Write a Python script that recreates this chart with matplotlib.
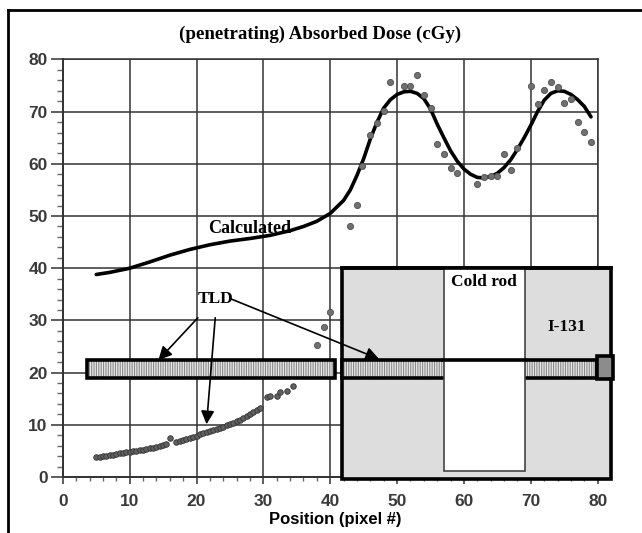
import matplotlib
matplotlib.use("Agg")
import matplotlib.pyplot as plt
from matplotlib.patches import Rectangle, FancyArrowPatch
from matplotlib.lines import Line2D
from matplotlib.ticker import MultipleLocator

# calculated dose curve
calc_x = [5, 7, 10, 13, 16, 19, 22, 25, 28, 31, 34, 36, 38, 40, 42, 43, 44, 45, 46, 47,
          48, 49, 50, 51, 52, 53, 54, 55, 56, 57, 58, 59, 60, 61, 62, 63, 64, 65, 66, 67,
          68, 69, 70, 71, 72, 73, 74, 75, 76, 77, 78, 79]
calc_y = [38.8, 39.2, 40.0, 41.2, 42.5, 43.6, 44.5, 45.2, 45.7, 46.3, 47.2, 48.0, 49.0, 50.5,
          53.0, 55.0, 57.8, 61.0, 64.8, 68.0, 70.7, 72.3, 73.3, 73.8, 73.9, 73.5, 72.5, 70.5,
          67.6, 65.0, 62.5, 60.5, 59.0, 58.0, 57.4, 57.3, 57.6, 58.2, 59.3, 60.8, 62.8, 65.0,
          67.4, 70.0, 72.2, 73.5, 74.0, 73.9, 73.3, 72.3, 71.0, 69.0]

# measured TLD dose (upper branch)
tld_x = [38, 39, 40, 43, 44, 44.7, 46, 47, 48, 49, 51, 52, 53, 54, 55, 56, 57, 58, 59,
         62, 63, 64, 65, 66, 67, 68, 70, 71, 72, 73, 74, 75, 76, 77, 78, 79]
tld_y = [25.3, 28.8, 31.7, 48.1, 52.2, 59.6, 65.5, 67.8, 70.1, 75.7, 75.0, 74.9, 77.0, 73.1,
         70.7, 63.9, 61.8, 59.3, 58.3, 56.1, 57.4, 57.7, 57.7, 61.8, 58.9, 63.1, 74.9, 71.4,
         74.2, 75.6, 74.7, 71.6, 72.4, 68.1, 66.2, 64.2]

# measured TLD dose (lower branch)
low_x = [5.0, 5.5, 6.0, 6.5, 7.0, 7.5, 8.0, 8.5, 9.0, 9.5, 10.0, 10.5, 11.0, 11.5, 12.0,
         12.5, 13.0, 13.5, 14.0, 14.5, 15.0, 15.5, 16.0, 17.0, 17.5, 18.0, 18.5, 19.0, 19.5,
         20.0, 20.5, 21.0, 21.5, 22.0, 22.5, 23.0, 23.5, 24.0, 24.5, 25.0, 25.5, 26.0, 26.5,
         27.0, 27.5, 28.0, 28.5, 29.0, 29.5, 30.5, 31.0, 32.0, 32.5, 33.5, 34.5]
low_y = [3.8, 3.9, 4.0, 4.1, 4.2, 4.3, 4.4, 4.5, 4.6, 4.7, 4.8, 4.9, 5.0, 5.1, 5.2,
         5.4, 5.5, 5.6, 5.8, 5.9, 6.1, 6.4, 7.4, 6.7, 6.9, 7.1, 7.3, 7.5, 7.7,
         7.9, 8.2, 8.4, 8.6, 8.8, 9.0, 9.2, 9.4, 9.6, 9.9, 10.1, 10.4, 10.7, 11.0,
         11.3, 11.7, 12.0, 12.4, 12.8, 13.2, 15.3, 15.5, 15.6, 16.2, 16.5, 17.4]

x_ticks = [0, 10, 20, 30, 40, 50, 60, 70, 80]
y_ticks = [0, 10, 20, 30, 40, 50, 60, 70, 80]

fig = plt.figure(figsize=(6.42, 5.33), dpi=100)
ax = fig.add_axes([0.0978, 0.1051, 0.8332, 0.7833])
ax.set_xlim(0, 80)
ax.set_ylim(0, 80)

ax.set_xticks(x_ticks)
ax.set_yticks(y_ticks)
ax.xaxis.set_minor_locator(MultipleLocator(2))
ax.yaxis.set_minor_locator(MultipleLocator(2))
ax.grid(True, which="major", color="#333333", linewidth=1.1)
ax.set_axisbelow(True)
for s in ax.spines.values():
    s.set_color("#333333")
    s.set_linewidth(1.1)
ax.spines["left"].set_linewidth(1.4)
ax.spines["bottom"].set_linewidth(1.4)

ax.tick_params(axis="y", which="major", length=9, width=1.1, color="#333333", pad=2)
ax.tick_params(axis="y", which="minor", length=4, width=1, color="#666666")
ax.tick_params(axis="x", which="major", length=5, width=1.1, color="#333333", pad=7)
ax.tick_params(axis="x", which="minor", length=3, width=1, color="#666666")
for lab in ax.get_xticklabels() + ax.get_yticklabels():
    lab.set_fontfamily("Liberation Sans")
    lab.set_fontweight("bold")
    lab.set_fontsize(12.5)
    lab.set_color("#3a3a3a")

# data
ax.plot(calc_x, calc_y, color="black", linewidth=2.6, zorder=3, solid_capstyle="round")
ax.scatter(tld_x, tld_y, s=20, color="#707070", edgecolors="#505050", linewidths=0.6, zorder=4)
ax.scatter(low_x, low_y, s=16, color="#606060", edgecolors="#333333", linewidths=0.6, zorder=4)

# phantom drawing: I-131 region with cold rod
ax.add_patch(Rectangle((41.75, -0.3), 82.0 - 41.75, 40.3, facecolor="#dddddd",
                       edgecolor="black", linewidth=2.6, zorder=5, clip_on=False))

plt.rcParams["hatch.linewidth"] = 0.8
# TLD bars
for x0, x1 in [(3.6, 40.7), (41.75, 79.9)]:
    ax.add_patch(Rectangle((x0, 18.9), x1 - x0, 3.6, facecolor="#e8e8e8", edgecolor="#8a8a8a",
                           linewidth=0, hatch="|" * 7, zorder=6, clip_on=False))
    ax.add_patch(Rectangle((x0, 18.9), x1 - x0, 3.6, fill=False, edgecolor="black",
                           linewidth=2.6, zorder=7, clip_on=False))
ax.add_patch(Rectangle((79.9, 18.7), 2.4, 4.5, facecolor="#8c8c8c", edgecolor="black",
                       linewidth=2.6, zorder=7, clip_on=False))

# cold rod
ax.add_patch(Rectangle((57.0, 1.2), 69.1 - 57.0, 38.8, facecolor="white", edgecolor="#444444",
                       linewidth=1.2, zorder=8))
ax.plot([57.0, 69.1], [22.5, 22.5], color="black", linewidth=2.6, zorder=9)
ax.plot([41.75, 82.0], [40, 40], color="black", linewidth=2.6, zorder=9, clip_on=False)

# labels in the plot
serif = "Liberation Serif"
ax.text(63.0, 37.4, "Cold rod", family=serif, fontweight="bold", fontsize=12.5,
        ha="center", va="center", zorder=10)
ax.text(75.3, 28.8, "I-131", family=serif, fontweight="bold", fontsize=12.5,
        ha="center", va="center", zorder=10)
ax.text(22.8, 34.1, "TLD", family=serif, fontweight="bold", fontsize=12.5,
        ha="center", va="center", zorder=10)
ax.text(27.9, 47.7, "Calculated", family=serif, fontweight="bold", fontsize=13,
        ha="center", va="center", zorder=10)

# arrows from TLD label
for (xa, ya), (xb, yb) in [((20.2, 30.5), (14.3, 22.4)),
                           ((22.8, 30.5), (21.5, 10.1)),
                           ((25.0, 34.2), (47.3, 22.6))]:
    ax.add_patch(FancyArrowPatch((xa, ya), (xb, yb), arrowstyle="-|>,head_length=8,head_width=4",
                                 color="black", linewidth=1.2, shrinkA=0, shrinkB=0, zorder=11))

fig.text(0.498, 0.936, "(penetrating) Absorbed Dose (cGy)", family=serif, fontweight="bold",
         fontsize=13.6, ha="center", va="center")
fig.text(0.522, 0.026, "Position (pixel #)", family="Liberation Sans", fontweight="bold",
         fontsize=12, ha="center", va="center")

# outer frame
fig.add_artist(Line2D([8 / 642, 8 / 642], [0, 1 - 10 / 533], color="black", linewidth=2,
                      transform=fig.transFigure))
fig.add_artist(Line2D([8 / 642, 1], [1 - 10 / 533, 1 - 10 / 533], color="black", linewidth=2,
                      transform=fig.transFigure))

plt.savefig("out.png", dpi=100)
